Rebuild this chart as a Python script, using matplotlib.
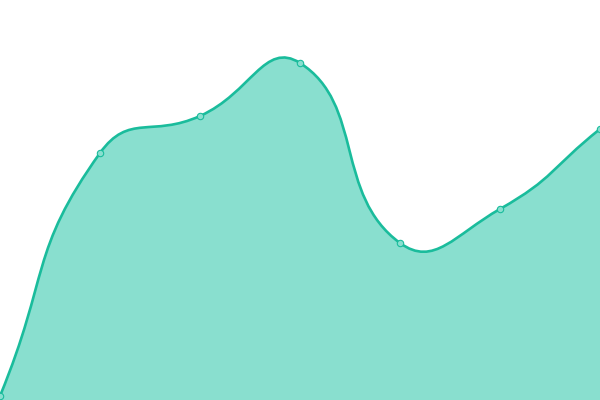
import numpy as np
import matplotlib
matplotlib.use("Agg")
import matplotlib.pyplot as plt
from matplotlib.path import Path
from matplotlib.patches import PathPatch

categories = ["A", "B", "C", "D", "E", "F", "G"]
values = [4, 247, 284, 337, 157, 191, 271]

line_color = "#1abc9c"
fill_color = "#89dfcf"
smooth = 0.5

fig = plt.figure(figsize=(6, 4), dpi=100)
ax = fig.add_axes([0, 0, 1, 1])
ax.set_xlim(0, len(categories) - 1)
ax.set_ylim(0, 400)
ax.axis("off")

x = np.arange(len(categories))
pts = ax.transData.transform(np.column_stack([x, values]))


# ECharts-like smooth bezier control points (in pixel space)
def control_points(p):
    n = len(p)
    cin = np.zeros_like(p)
    cout = np.zeros_like(p)
    for i in range(n):
        prev = p[i - 1] if i > 0 else p[i]
        nxt = p[i + 1] if i < n - 1 else p[i]
        v = nxt - prev
        dp = np.hypot(*(p[i] - prev))
        dn = np.hypot(*(nxt - p[i]))
        ratio = dn / (dp + dn) if dp + dn > 0 else 0.5
        cin[i] = p[i] - v * smooth * (1 - ratio)
        cout[i] = p[i] + v * smooth * ratio
    return cin, cout


cin, cout = control_points(pts)
verts = [pts[0]]
codes = [Path.MOVETO]
for i in range(len(pts) - 1):
    verts += [cout[i], cin[i + 1], pts[i + 1]]
    codes += [Path.CURVE4] * 3
inv = ax.transData.inverted()
verts_d = inv.transform(np.array(verts))

line_path = Path(verts_d, codes)
area_verts = list(verts_d) + [[x[-1], 0], [x[0], 0], verts_d[0]]
area_codes = codes + [Path.LINETO, Path.LINETO, Path.CLOSEPOLY]
area_path = Path(area_verts, area_codes)

ax.add_patch(PathPatch(area_path, facecolor=fill_color, edgecolor="none", zorder=1))
ax.add_patch(PathPatch(line_path, facecolor="none", edgecolor=line_color, lw=1.9, zorder=2))
ax.plot(x, values, "o", ms=4.6, mfc=fill_color, mec=line_color, mew=0.8,
        zorder=3, clip_on=True)

fig.savefig("out.png", dpi=100)
